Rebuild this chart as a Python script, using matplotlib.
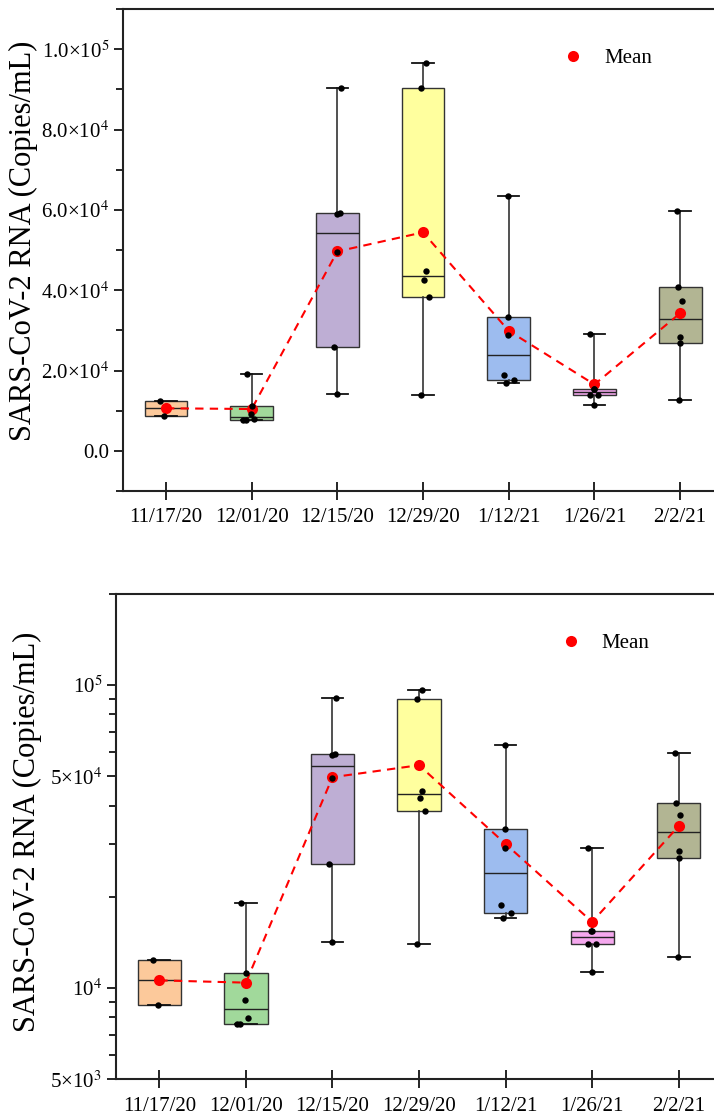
import numpy as np
import matplotlib
matplotlib.use("Agg")
import matplotlib.pyplot as plt
from matplotlib.lines import Line2D
from matplotlib.ticker import MultipleLocator, FixedLocator, FixedFormatter, FuncFormatter, LogLocator, NullFormatter

plt.rcParams["font.family"] = ["Liberation Serif", "DejaVu Serif"]
plt.rcParams["mathtext.fontset"] = "stix"

# sampling dates and RNA concentrations (copies/mL)
dates = ["11/17/20", "12/01/20", "12/15/20", "12/29/20", "1/12/21", "1/26/21", "2/2/21"]
s_1117 = [12400, 8800]
s_1201 = [19060, 11170, 9110, 7960, 7610, 7610]
s_1215 = [90400, 59200, 58900, 49500, 25750, 14170]
s_1229 = [96600, 90250, 44800, 42450, 38300, 14010]
s_0112 = [63400, 33450, 28950, 18820, 17700, 17000]
s_0126 = [29000, 15450, 15400, 14010, 14010, 11330]
s_0202 = [59600, 40750, 37280, 28300, 26950, 12650]
samples = [s_1117, s_1201, s_1215, s_1229, s_0112, s_0126, s_0202]

box_colors = ["#FCC99B", "#A1D99B", "#BEAED4", "#FFFF9E", "#9DBCEF", "#F5A8EE", "#B2B593"]

# small horizontal offsets so overlapping points stay visible
jitter = [
    [-0.07, -0.02],
    [-0.06, 0.0, -0.01, 0.03, -0.10, -0.07],
    [0.04, 0.03, 0.0, 0.0, -0.04, 0.0],
    [0.03, -0.02, 0.03, 0.01, 0.07, -0.02],
    [-0.01, -0.01, -0.01, -0.05, 0.06, -0.03],
    [-0.05, 0.0, -0.01, -0.05, 0.04, 0.0],
    [-0.04, -0.03, 0.02, 0.0, 0.0, -0.01],
]


def box_stats(vals):
    # Tukey hinges, whiskers at min / max
    v = np.sort(vals)
    n = len(v)
    half = n // 2
    lower = v[:half] if n % 2 == 0 else v[:half + 1]
    upper = v[half:] if n % 2 == 0 else v[half:]
    return dict(med=np.median(v), q1=np.median(lower), q3=np.median(upper),
                whislo=v.min(), whishi=v.max(), fliers=[])


def draw(ax):
    pos = np.arange(1, len(dates) + 1)
    stats = [box_stats(s) for s in samples]
    bp = ax.bxp(stats, positions=pos, widths=0.5, patch_artist=True,
                showfliers=False,
                boxprops=dict(edgecolor="#333333", linewidth=1.0),
                medianprops=dict(color="#222222", linewidth=1.0),
                whiskerprops=dict(color="#333333", linewidth=1.2),
                capprops=dict(color="#111111", linewidth=1.3),
                capwidths=0.25)
    for patch, c in zip(bp["boxes"], box_colors):
        patch.set_facecolor(c)
        patch.set_zorder(2)

    means = [np.mean(s) for s in samples]
    ax.plot(pos, means, color="red", lw=1.5, ls=(0, (4, 3)), zorder=3)
    ax.plot(pos, means, "o", color="red", ms=8, mec="none", zorder=4)
    for p, s, j in zip(pos, samples, jitter):
        ax.plot(p + np.array(j), s, "o", color="black", ms=4.6, mec="none", zorder=5)

    ax.set_xlim(0.5, 7.5)
    ax.set_xticks(pos)
    ax.set_xticklabels(dates, fontsize=15)
    ax.tick_params(axis="x", direction="inout", length=13, width=1.2, pad=6)
    ax.tick_params(axis="y", which="major", direction="out", length=6.5, width=1.2, labelsize=15)
    ax.tick_params(axis="y", which="minor", direction="out", length=5, width=1.2)
    for sp in ax.spines.values():
        sp.set_linewidth(1.5)
        sp.set_color("#222222")
    ax.set_ylabel("SARS-CoV-2 RNA (Copies/mL)", fontsize=22)

    handle = Line2D([], [], marker="o", color="red", ls="none", ms=8, mec="none")
    ax.legend([handle], ["Mean"], frameon=False, fontsize=15, loc="center left",
              bbox_to_anchor=(0.733, 0.898), borderpad=0, borderaxespad=0,
              handlelength=1.0, handletextpad=1.0)


def sci_label(v, _pos):
    if v == 0:
        return "0.0"
    e = int(np.floor(np.log10(abs(v))))
    m = v / 10 ** e
    return f"{m:.1f}×10$^{{{e}}}$"


fig = plt.figure(figsize=(7.14, 11.17), dpi=100)

# linear scale
ax1 = fig.add_axes([0.1725, 0.5604, 0.840, 0.4315])
draw(ax1)
ax1.set_ylim(-1e4, 1.1e5)
ax1.yaxis.set_major_locator(FixedLocator([0, 2e4, 4e4, 6e4, 8e4, 1e5]))
ax1.yaxis.set_major_formatter(FuncFormatter(sci_label))
ax1.yaxis.set_minor_locator(MultipleLocator(1e4))
ax1.yaxis.set_label_coords(-0.142, 0.52)

# log scale
ax2 = fig.add_axes([0.1625, 0.0338, 0.8487, 0.4345])
draw(ax2)
ax2.set_yscale("log")
ax2.set_ylim(5e3, 2e5)
ax2.yaxis.set_major_locator(FixedLocator([5e3, 1e4, 5e4, 1e5]))
ax2.yaxis.set_major_formatter(FixedFormatter(["5×10$^{3}$", "10$^{4}$", "5×10$^{4}$", "10$^{5}$"]))
ax2.yaxis.set_minor_locator(LogLocator(base=10, subs=(2, 3, 4, 6, 7, 8, 9)))
ax2.yaxis.set_minor_formatter(NullFormatter())
ax2.yaxis.set_label_coords(-0.122, 0.51)

fig.savefig("out.png", dpi=100)
